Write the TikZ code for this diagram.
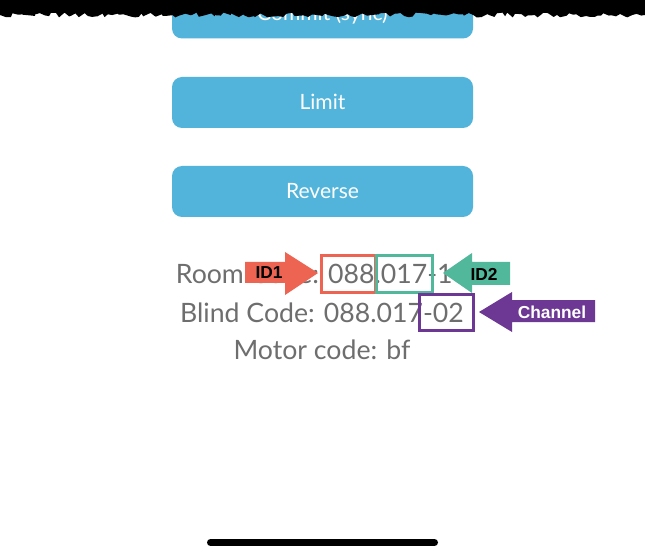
\documentclass[tikz,border=0pt]{standalone}
\usepackage{fontspec}
\setmainfont{Lato}
\newfontfamily\tagfont{Liberation Sans}
\usetikzlibrary{positioning, decorations.pathmorphing}

\definecolor{appblue}{HTML}{53B4DB}
\definecolor{codegray}{HTML}{6E6E6E}
\definecolor{idred}{HTML}{EE6452}
\definecolor{idteal}{HTML}{52B89C}
\definecolor{chpurple}{HTML}{6C3894}

\begin{document}
\begin{tikzpicture}[
    x=0.75pt, y=-0.75pt,
    button/.style={fill=appblue, rounded corners=7.5pt, text=white,
        minimum width=225.75pt, minimum height=38.25pt,
        font=\fontsize{15.8}{18}\selectfont, text height=11.25pt, text depth=0pt},
    codeline/.style={text=codegray, anchor=base, inner sep=0pt,
        font=\fontsize{20}{24}\selectfont},
    markbox/.style={draw, line width=2.25pt},
    tag/.style={font=\tagfont\bfseries\fontsize{13}{15}\selectfont, inner sep=0pt}
]
    % frame
    \useasboundingbox (0,0) rectangle (645,559);
    \fill[white] (0,0) rectangle (645,559);

    % Buttons
    \node[button] (commit) at (322.5,13) {Commit (sync)};
    \node[button] (limit) at (322.5,102.5) {Limit};
    \node[button] (reverse) at (322.5,191.5) {Reverse};

    % Torn top edge
    \pgfmathsetseed{7}
    \fill[black] (0,0) -- (645,0) -- (645,15)
        decorate[decoration={random steps, segment length=3pt, amplitude=1.8pt}]
        {-- (0,15)} -- cycle;

    % Codes
    \node[codeline] (room) at (322,283) {Room Code: 088.017-10};
    \node[codeline] (blind) at (322,322) {Blind Code: 088.017-02};
    \node[codeline] (motor) at (322,359) {Motor code: bf};

    % Boxes round the parts of the code
    \draw[markbox, idred] (321,256) rectangle (375,292);
    \draw[markbox, idteal] (376,256) rectangle (432,292);
    \draw[markbox, chpurple] (419,294) rectangle (473,330);

    % ID1 arrow
    \fill[idred] (245,262) -- (285,262) -- (285,252) -- (318,273)
        -- (285,295) -- (285,283) -- (245,283) -- cycle;
    \node[tag] (id1) at (269,272.5) {ID1};

    % ID2 arrow
    \fill[idteal] (510,262) -- (472,262) -- (472,253) -- (443,273)
        -- (472,293) -- (472,285) -- (510,285) -- cycle;
    \node[tag] (id2) at (484,274) {ID2};

    % Channel arrow
    \fill[chpurple] (595,300) -- (512,300) -- (512,292) -- (479,312)
        -- (512,332) -- (512,322) -- (595,322) -- cycle;
    \node[tag, text=white] (channel) at (552,312) {Channel};

    % Home indicator
    \draw[line width=5.25pt, line cap=round] (210.5,542.5) -- (434.5,542.5);
\end{tikzpicture}
\end{document}
